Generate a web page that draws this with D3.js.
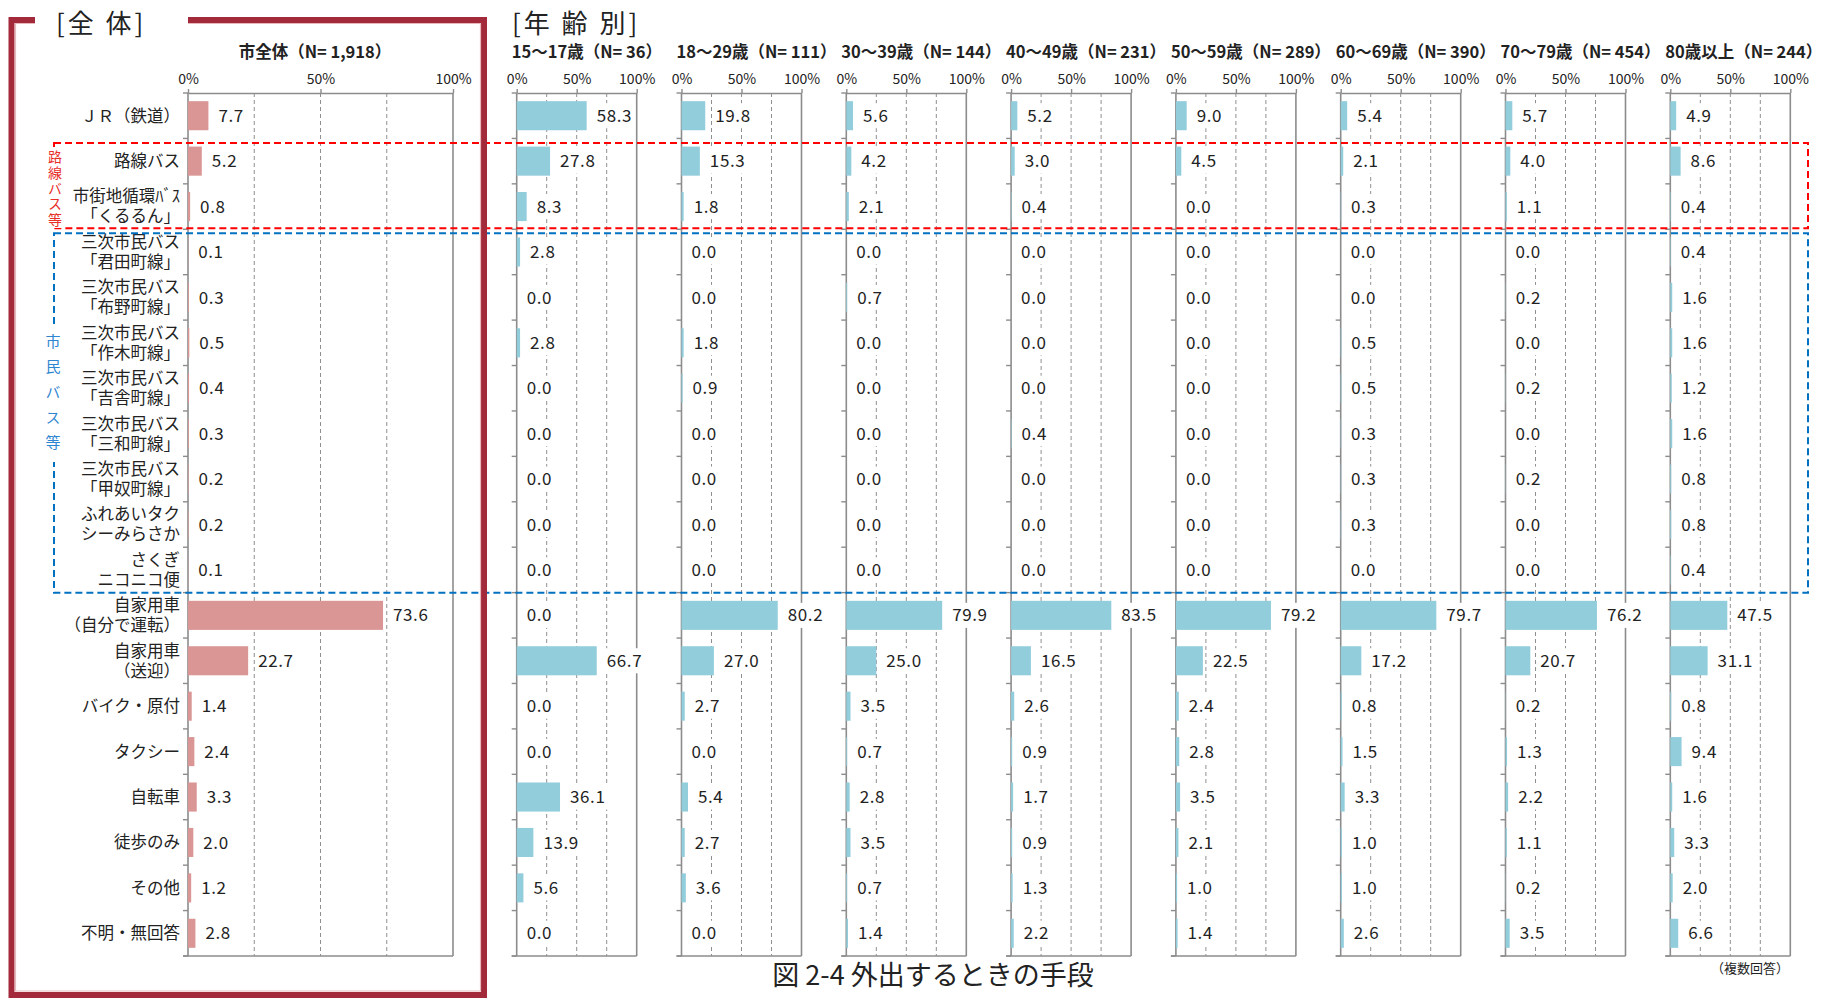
<!DOCTYPE html>
<html>
<head>
<meta charset="utf-8">
<script src="https://cdn.jsdelivr.net/npm/d3@7"></script>
<style>
  body { margin: 0; background: #fff; }
  svg text { font-family: "Noto Sans CJK JP", "Noto Sans", sans-serif; fill: #222; }
</style>
</head>
<body>
<svg id="chart" width="1827" height="998"></svg>
<script>
// categories (line breaks as \n)
var categories = [
  "ＪＲ（鉄道）", "路線バス", "市街地循環ﾊﾞｽ\n「くるるん」",
  "三次市民バス\n「君田町線」", "三次市民バス\n「布野町線」", "三次市民バス\n「作木町線」",
  "三次市民バス\n「吉舎町線」", "三次市民バス\n「三和町線」", "三次市民バス\n「甲奴町線」",
  "ふれあいタク\nシーみらさか", "さくぎ\nニコニコ便",
  "自家用車\n（自分で運転）", "自家用車\n（送迎）", "バイク・原付", "タクシー",
  "自転車", "徒歩のみ", "その他", "不明・無回答"
];

var overallTitle = "市全体（N= 1,918）";
var overallValues = [7.7, 5.2, 0.8, 0.1, 0.3, 0.5, 0.4, 0.3, 0.2, 0.2, 0.1, 73.6, 22.7, 1.4, 2.4, 3.3, 2.0, 1.2, 2.8];

var ageTitles = [
  "15～17歳（N= 36）", "18～29歳（N= 111）", "30～39歳（N= 144）", "40～49歳（N= 231）",
  "50～59歳（N= 289）", "60～69歳（N= 390）", "70～79歳（N= 454）", "80歳以上（N= 244）"
];
var age15to17 = [58.3, 27.8, 8.3, 2.8, 0.0, 2.8, 0.0, 0.0, 0.0, 0.0, 0.0, 0.0, 66.7, 0.0, 0.0, 36.1, 13.9, 5.6, 0.0];
var age18to29 = [19.8, 15.3, 1.8, 0.0, 0.0, 1.8, 0.9, 0.0, 0.0, 0.0, 0.0, 80.2, 27.0, 2.7, 0.0, 5.4, 2.7, 3.6, 0.0];
var age30to39 = [5.6, 4.2, 2.1, 0.0, 0.7, 0.0, 0.0, 0.0, 0.0, 0.0, 0.0, 79.9, 25.0, 3.5, 0.7, 2.8, 3.5, 0.7, 1.4];
var age40to49 = [5.2, 3.0, 0.4, 0.0, 0.0, 0.0, 0.0, 0.4, 0.0, 0.0, 0.0, 83.5, 16.5, 2.6, 0.9, 1.7, 0.9, 1.3, 2.2];
var age50to59 = [9.0, 4.5, 0.0, 0.0, 0.0, 0.0, 0.0, 0.0, 0.0, 0.0, 0.0, 79.2, 22.5, 2.4, 2.8, 3.5, 2.1, 1.0, 1.4];
var age60to69 = [5.4, 2.1, 0.3, 0.0, 0.0, 0.5, 0.5, 0.3, 0.3, 0.3, 0.0, 79.7, 17.2, 0.8, 1.5, 3.3, 1.0, 1.0, 2.6];
var age70to79 = [5.7, 4.0, 1.1, 0.0, 0.2, 0.0, 0.2, 0.0, 0.2, 0.0, 0.0, 76.2, 20.7, 0.2, 1.3, 2.2, 1.1, 0.2, 3.5];
var age80plus = [4.9, 8.6, 0.4, 0.4, 1.6, 1.6, 1.2, 1.6, 0.8, 0.8, 0.4, 47.5, 31.1, 0.8, 9.4, 1.6, 3.3, 2.0, 6.6];
var ageValues = [age15to17, age18to29, age30to39, age40to49, age50to59, age60to69, age70to79, age80plus];

var tickValues = [0, 50, 100];
var gridValues = [25, 50, 75];

var svg = d3.select("#chart");
var plotTop = 93, plotBottom = 956;
var axisColor = "#8c8c8c";
var fmt = d3.format(".1f");

var y = d3.scaleBand()
  .domain(d3.range(categories.length))
  .range([plotTop, plotBottom])
  .paddingInner(0.36)
  .paddingOuter(0.18);

function rowTop(i) { return plotTop + i * y.step(); }

function drawPanel(x0, width, values, fill, title, titleX, titleAnchor) {
  var x = d3.scaleLinear().domain([0, 100]).range([x0, x0 + width]);
  var g = svg.append("g");

  // dashed gridlines
  g.selectAll("line.grid")
    .data(gridValues)
    .enter().append("line")
      .attr("x1", function(d) { return x(d); })
      .attr("x2", function(d) { return x(d); })
      .attr("y1", plotTop).attr("y2", plotBottom)
      .attr("stroke", "#8f8f8f")
      .attr("stroke-width", 1)
      .attr("stroke-dasharray", "4,3");

  // solid 0% / 100% lines
  g.selectAll("line.edge")
    .data([0, 100])
    .enter().append("line")
      .attr("x1", function(d) { return x(d); })
      .attr("x2", function(d) { return x(d); })
      .attr("y1", plotTop).attr("y2", plotBottom)
      .attr("stroke", axisColor)
      .attr("stroke-width", 1.6);

  // bottom line
  g.append("line")
    .attr("x1", x0 - 5).attr("x2", x(100))
    .attr("y1", plotBottom).attr("y2", plotBottom)
    .attr("stroke", axisColor).attr("stroke-width", 1.6);

  // row boundary ticks
  g.selectAll("line.rowtick")
    .data(d3.range(categories.length + 1))
    .enter().append("line")
      .attr("x1", x0 - 5).attr("x2", x0)
      .attr("y1", function(i) { return rowTop(i); })
      .attr("y2", function(i) { return rowTop(i); })
      .attr("stroke", axisColor).attr("stroke-width", 1.4);

  // top axis
  var ax = g.append("g")
    .attr("transform", "translate(0," + plotTop + ")")
    .call(d3.axisTop(x).tickValues(tickValues).tickFormat(function(d) { return d + "%"; })
      .tickSize(4).tickSizeOuter(0));
  ax.select(".domain").attr("stroke", axisColor).attr("stroke-width", 1.6);
  ax.selectAll(".tick line").attr("stroke", axisColor).attr("stroke-width", 1.4);
  ax.selectAll(".tick text")
    .attr("y", -9)
    .style("font-family", '"Noto Sans CJK JP", sans-serif')
    .style("font-size", "14px")
    .attr("fill", "#222");

  // bars
  g.selectAll("rect.bar")
    .data(values)
    .enter().append("rect")
      .attr("x", x(0))
      .attr("y", function(d, i) { return y(i); })
      .attr("width", function(d) { return x(d) - x(0); })
      .attr("height", y.bandwidth())
      .attr("fill", fill);

  // value labels with white background
  var labels = g.selectAll("g.lbl")
    .data(values)
    .enter().append("g");
  labels.each(function(d, i) {
    var lg = d3.select(this);
    var bg = lg.append("rect").attr("fill", "#fff");
    var t = lg.append("text")
      .attr("x", x(d) + 10)
      .attr("y", y(i) + y.bandwidth() / 2)
      .attr("dy", "0.36em")
      .style("font-size", "17px")
      .style("letter-spacing", "0.6px")
      .text(fmt(d));
    var bb = t.node().getBBox();
    bg.attr("x", bb.x - 3).attr("width", bb.width + 6)
      .attr("y", y(i) + 2).attr("height", y.bandwidth() - 4);
  });

  // panel title
  g.append("text")
    .attr("x", titleX)
    .attr("y", 52)
    .attr("dy", "0.36em")
    .attr("text-anchor", titleAnchor)
    .style("font-size", "16.5px")
    .style("font-weight", "bold")
    .text(title);

  return x;
}

// overall panel
var xAll = drawPanel(188, 265, overallValues, "#d99694", overallTitle, 315, "middle");

// category labels
var cat = svg.append("g").selectAll("text")
  .data(categories)
  .enter().append("text")
    .attr("text-anchor", "end")
    .style("font-size", "16.5px");
cat.each(function(d, i) {
  var lines = d.split("\n");
  var cy = y(i) + y.bandwidth() / 2;
  var t = d3.select(this);
  lines.forEach(function(line, k) {
    t.append("tspan")
      .attr("x", 180)
      .attr("y", cy + (k - (lines.length - 1) / 2) * 20)
      .attr("dy", "0.36em")
      .text(line);
  });
});

// age panels
ageValues.forEach(function(vals, k) {
  var x0 = 516.7 + k * 164.8;
  drawPanel(x0, 120, vals, "#92cddc", ageTitles[k], x0 - 5, "start");
});

// group boxes
svg.append("rect")
  .attr("x", 54).attr("y", rowTop(1) + 4.5)
  .attr("width", 1808 - 54).attr("height", rowTop(3) - 1 - rowTop(1) - 4.5)
  .attr("fill", "none").attr("stroke", "#ff0000")
  .attr("stroke-width", 2).attr("stroke-dasharray", "7,4");
svg.append("rect")
  .attr("x", 54).attr("y", rowTop(3) + 4)
  .attr("width", 1808 - 54).attr("height", rowTop(11) - rowTop(3) - 4)
  .attr("fill", "none").attr("stroke", "#0070c0")
  .attr("stroke-width", 2).attr("stroke-dasharray", "7,4");

// vertical group labels (one vertical text each)
function verticalLabel(label, cx, y0, y1, startY, size, spacing, color) {
  var g = svg.append("g");
  g.append("rect")
    .attr("x", cx - 9).attr("width", 18)
    .attr("y", y0).attr("height", y1 - y0)
    .attr("fill", "#fff");
  g.append("text")
    .attr("x", cx)
    .attr("y", startY)
    .style("writing-mode", "vertical-rl")
    .style("text-orientation", "upright")
    .style("font-size", size + "px")
    .style("letter-spacing", spacing + "px")
    .style("fill", color)
    .text(label);
}
verticalLabel("路線バス等", 55, 147, 228, 150, 14, 1.6, "#e8302a");
verticalLabel("市民バス等", 53, 324, 462, 334, 15, 10.2, "#2f86d0");

// frame round the overall panel
svg.append("path")
  .attr("d", "M35,20 H11.5 V995 H484 V20 H188")
  .attr("fill", "none").attr("stroke", "#a32a3a").attr("stroke-width", 6);
svg.append("path")
  .attr("d", "M35,23.5 H15.5 V991 H480.5 V23.5 H188")
  .attr("fill", "none").attr("stroke", "#e6b9bd").attr("stroke-width", 1.2);

// section headings
svg.append("text")
  .attr("x", 56).attr("y", 24).attr("dy", "0.36em")
  .style("font-size", "26px").style("letter-spacing", "3px")
  .text("[全 体]");
svg.append("text")
  .attr("x", 512).attr("y", 24).attr("dy", "0.36em")
  .style("font-size", "26px").style("letter-spacing", "3px")
  .text("[年 齢 別]");

// caption
svg.append("text")
  .attr("x", 933).attr("y", 975).attr("dy", "0.36em")
  .attr("text-anchor", "middle")
  .style("font-size", "27px")
  .text("図 2-4 外出するときの手段");
svg.append("text")
  .attr("x", 1750).attr("y", 968).attr("dy", "0.36em")
  .attr("text-anchor", "middle")
  .style("font-size", "13px")
  .text("（複数回答）");
</script>
</body>
</html>
